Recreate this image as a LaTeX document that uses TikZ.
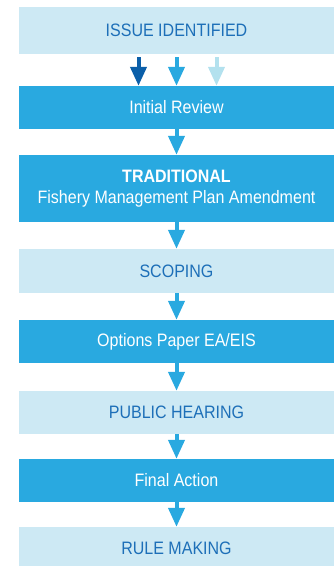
\documentclass[tikz,border=0pt]{standalone}
\usepackage{fontspec}
\setmainfont{Liberation Sans}[FakeStretch=0.89]
\usetikzlibrary{arrows.meta}

\definecolor{boxlight}{HTML}{CDE9F4}
\definecolor{boxdark}{HTML}{29A9E0}
\definecolor{txtblue}{HTML}{1D6FB8}
\definecolor{arrdark}{HTML}{0B5FA9}
\definecolor{arrlight}{HTML}{B3E1EE}

\begin{document}
\begin{tikzpicture}[x=1pt,y=-1pt]
%%%%%%%%%%%%%%%%%%%%%%%%%%%%%%%%%%%%%%%%%%%%%%%%%%%%%%%%
% STYLE
\tikzstyle{light}=[rectangle,fill=boxlight,text=txtblue,minimum width=315pt,inner sep=0pt,font=\fontsize{18}{21.5}\selectfont]
\tikzstyle{dark}=[rectangle,fill=boxdark,text=white,minimum width=315pt,inner sep=0pt,font=\fontsize{18}{21.5}\selectfont]
\tikzstyle{arr}=[draw=boxdark,line width=4pt,-{Triangle[length=19pt,width=16pt]}]

\useasboundingbox (0,0) rectangle (333,566);

%%%%%%%%%%%%%%%%%%%%%%%%%%%%%%%%%%%%%%%%%%%%%%%%%%%%%%%%
% NODES
\node[light,minimum height=47pt] (B0) at (176.5,30.5) {ISSUE IDENTIFIED};
\node[dark,minimum height=43pt] (B1) at (176.5,107.5) {Initial Review};
\node[dark,minimum height=67pt,align=center] (B2) at (176.5,188.5) {\textbf{TRADITIONAL}\\Fishery Management Plan Amendment};
\node[light,minimum height=44pt] (B3) at (176.5,271) {SCOPING};
\node[dark,minimum height=43pt] (B4) at (176.5,341.5) {Options Paper EA/EIS};
\node[light,minimum height=43pt] (B5) at (176.5,412.5) {PUBLIC HEARING};
\node[dark,minimum height=43pt] (B6) at (176.5,480.5) {Final Action};
\node[light,minimum height=43pt] (B7) at (176.5,548.5) {RULE MAKING};

%%%%%%%%%%%%%%%%%%%%%%%%%%%%%%%%%%%%%%%%%%%%%%%%%%%%%%%%
% LINKS
\draw[arr,draw=arrdark] ([xshift=-38pt,yshift=-3pt]B0.south) -- ([xshift=-38pt]B1.north);
\draw[arr] ([yshift=-3pt]B0.south) -- (B1.north);
\draw[arr,draw=arrlight] ([xshift=40pt,yshift=-3pt]B0.south) -- ([xshift=40pt]B1.north);

\draw[arr] (B1) -- (B2);
\draw[arr] (B2) -- (B3);
\draw[arr] (B3) -- (B4);
\draw[arr] (B4) -- (B5);
\draw[arr] (B5) -- (B6);
\draw[arr] (B6) -- (B7);

\end{tikzpicture}
\end{document}
